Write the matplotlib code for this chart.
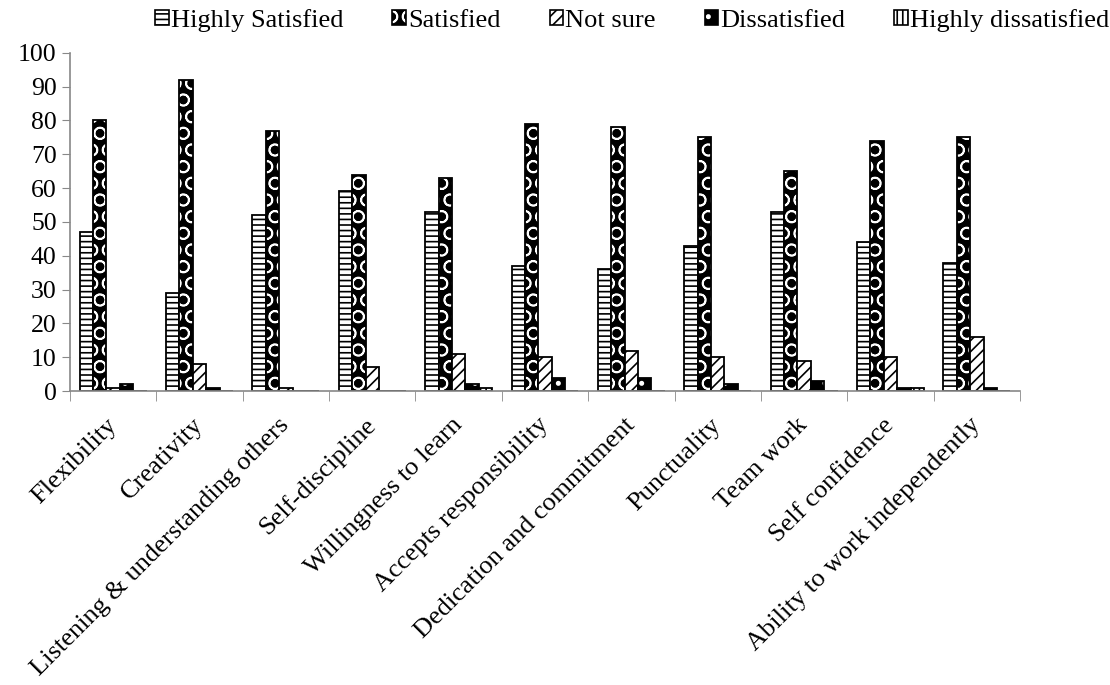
import numpy as np
import matplotlib
matplotlib.use("Agg")
import matplotlib.pyplot as plt
from matplotlib.patches import Patch

plt.rcParams['font.family'] = ['Liberation Serif', 'DejaVu Serif']
plt.rcParams['hatch.linewidth'] = 1.2

categories = ["Flexibility", "Creativity", "Listening & understanding others",
              "Self-discipline", "Willingness to learn", "Accepts responsibility",
              "Dedication and commitment", "Punctuality", "Team work",
              "Self confidence", "Ability to work independently"]
series_names = ["Highly Satisfied", "Satisfied", "Not sure", "Dissatisfied",
                "Highly dissatisfied"]
highly_satisfied = [47, 29, 52, 59, 53, 37, 36, 43, 53, 44, 38]
satisfied = [80, 92, 77, 64, 63, 79, 78, 75, 65, 74, 75]
not_sure = [1, 8, 1, 7, 11, 10, 12, 10, 9, 10, 16]
dissatisfied = [2, 1, 0, 0, 2, 4, 4, 2, 3, 1, 1]
highly_dissatisfied = [0, 0, 0, 0, 1, 0, 0, 0, 0, 1, 0]
y_ticks = list(range(0, 101, 10))

series = [highly_satisfied, satisfied, not_sure, dissatisfied, highly_dissatisfied]
# (facecolor, hatch colour, hatch)
styles = [("white", "black", "---"),
          ("black", "white", "O"),
          ("white", "black", "///"),
          ("black", "white", "."),
          ("white", "black", "|||")]

fig = plt.figure(figsize=(11.1, 6.85), dpi=100)
ax = fig.add_axes([0.063, 0.429, 0.856, 0.494])

x = np.arange(len(categories))
width = 0.155
for i, (vals, (fc, hc, h)) in enumerate(zip(series, styles)):
    pos = x + (i - 2) * width
    ax.bar(pos, vals, width, facecolor=fc, edgecolor=hc, hatch=h, linewidth=0)
    ax.bar(pos, vals, width, facecolor="none", edgecolor="black", linewidth=1.3)

leg_handles = [(Patch(facecolor=fc, edgecolor=hc, hatch=h, linewidth=0),
                Patch(facecolor="none", edgecolor="black", linewidth=1.2))
               for fc, hc, h in styles]
ax.legend(leg_handles, series_names, loc="center", bbox_to_anchor=(0.592, 1.095),
          ncol=5, frameon=False, fontsize=19, handlelength=0.5, handleheight=0.5,
          handletextpad=0.1, columnspacing=1.85, borderaxespad=0, borderpad=0)

ax.set_xlim(-0.5, len(categories) - 0.5)
ax.set_ylim(0, 100)
ax.set_yticks(y_ticks)
ax.tick_params(axis="y", labelsize=18.5, color="#888888", length=6, direction="out")
ax.set_xticks(x)
ax.set_xticklabels(categories, rotation=45, ha="right", va="center",
                   rotation_mode="anchor", fontsize=19)
ax.tick_params(axis="x", length=0, pad=22)
ax.set_xticks(np.arange(-0.5, len(categories)), minor=True)
ax.tick_params(axis="x", which="minor", length=7, color="#888888")

for s in ["top", "right"]:
    ax.spines[s].set_visible(False)
for s in ["left", "bottom"]:
    ax.spines[s].set_color("#888888")
    ax.spines[s].set_linewidth(1.2)

fig.savefig("out.png", dpi=100)
